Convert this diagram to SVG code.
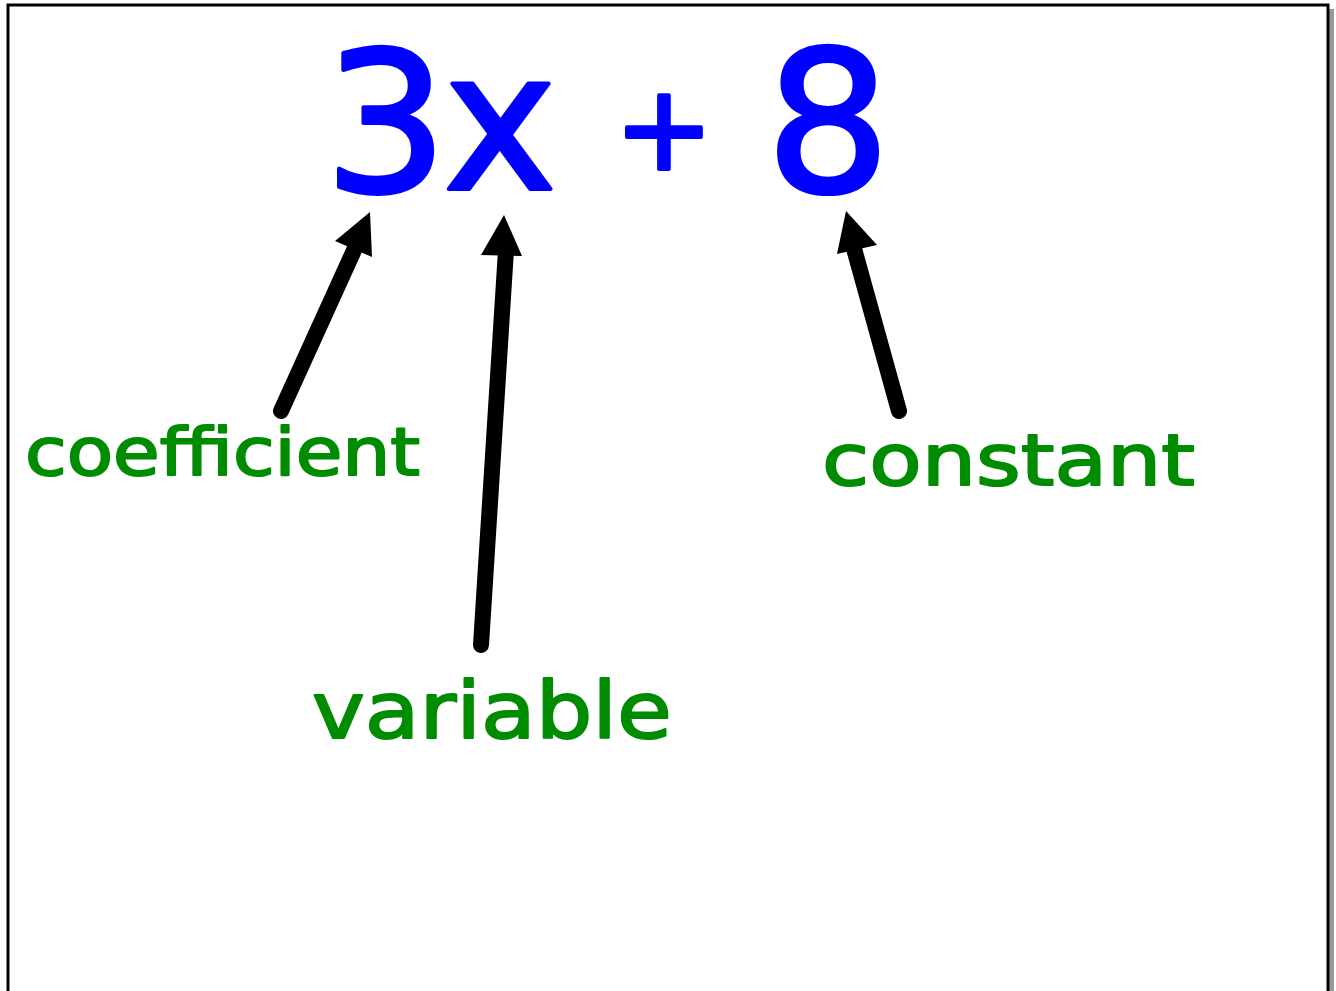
<svg xmlns="http://www.w3.org/2000/svg" width="1336" height="991" viewBox="0 0 1336 991">
<style>
.eq{font-family:"DejaVu Sans",sans-serif;fill:#0000ff;stroke:#0000ff;stroke-width:4;stroke-linejoin:round;text-anchor:middle}
.lbl{font-family:"DejaVu Sans",sans-serif;fill:#008c00;stroke:#008c00;stroke-width:2;stroke-linejoin:round}
.shaft{stroke:#000;stroke-width:16;stroke-linecap:round;fill:none}
.head{fill:#000}
</style>
<rect x="0" y="0" width="1336" height="991" fill="#fff"/>
<rect x="1329" y="9" width="5" height="990" fill="#999"/>
<rect x="8" y="5" width="1320" height="995" fill="#fff" stroke="#000" stroke-width="3"/>
<g id="equation">
<text class="eq" x="386" y="191" font-size="194">3</text>
<text class="eq" x="500" y="189" font-size="192">x</text>
<text class="eq" x="664" y="169" font-size="118">+</text>
<text class="eq" x="828" y="191" font-size="196">8</text>
</g>
<g id="connectors">
<line class="shaft" x1="281" y1="411" x2="355" y2="248"/>
<polygon class="head" points="370,212 335,241 372,257"/>
<line class="shaft" x1="481" y1="645" x2="506" y2="250"/>
<polygon class="head" points="504,215 481,255 522,256"/>
<line class="shaft" x1="899" y1="411" x2="853" y2="245"/>
<polygon class="head" points="846,211 837,254 877,245"/>
</g>
<g id="coefficient"><text class="lbl" x="25" y="475" font-size="66" textLength="395" lengthAdjust="spacingAndGlyphs">coefficient</text></g>
<g id="variable"><text class="lbl" x="312" y="738" font-size="78" textLength="360" lengthAdjust="spacingAndGlyphs">variable</text></g>
<g id="constant"><text class="lbl" x="822" y="485" font-size="72" textLength="373" lengthAdjust="spacingAndGlyphs">constant</text></g>
</svg>
